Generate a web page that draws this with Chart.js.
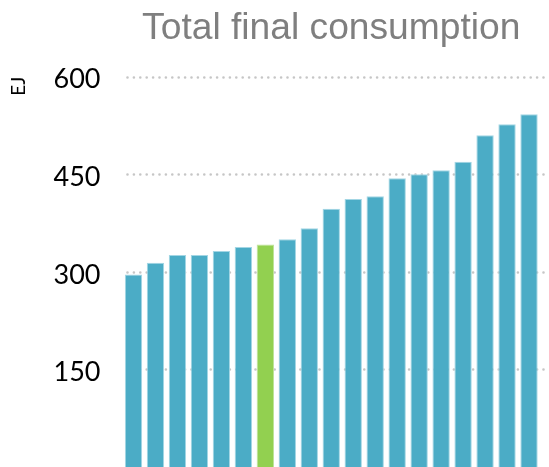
<!DOCTYPE html>
<html>
<head>
<meta charset="utf-8">
<script src="https://cdn.jsdelivr.net/npm/chart.js@4/dist/chart.umd.min.js"></script>
<style>
  html, body { margin: 0; padding: 0; background: #ffffff; }
  #wrap { width: 549px; height: 467px; position: relative; }
</style>
</head>
<body>
<div id="wrap"><canvas id="c"></canvas></div>
<script>
// ---- data ----
const categories = ['1','2','3','4','5','6','7','8','9','10','11','12','13','14','15','16','17','18','19'];
const consumptionEJ = [296, 314, 326, 326, 332, 338, 342, 350, 367, 397, 412, 416, 444, 450, 456, 469, 510, 527, 542];
const highlightIndex = 6;
const yTicks = [150, 300, 450, 600];
const titleText = 'Total final consumption';
const unitText = 'EJ';

const BLUE = '#4BACC6';
const GREEN = '#92D050';

const dottedGrid = {
  id: 'dottedGrid',
  beforeDatasetsDraw(chart) {
    const { ctx, chartArea, scales: { y } } = chart;
    ctx.save();
    ctx.strokeStyle = '#c6c6c6';
    ctx.lineWidth = 2.6;
    ctx.lineCap = 'round';
    ctx.setLineDash([0, 6.4]);
    y.ticks.forEach(t => {
      const py = Math.round(y.getPixelForValue(t.value)) + 0.5;
      ctx.beginPath();
      ctx.moveTo(chartArea.left + 5, py);
      ctx.lineTo(chart.width, py);
      ctx.stroke();
    });
    ctx.restore();
  }
};

new Chart(document.getElementById('c'), {
  type: 'bar',
  data: {
    labels: categories,
    datasets: [{
      data: consumptionEJ,
      backgroundColor: consumptionEJ.map((_, i) => i === highlightIndex ? GREEN : BLUE),
      borderColor: consumptionEJ.map((_, i) => i === highlightIndex ? '#bfe39a' : '#a3d6e4'),
      borderWidth: 1,
      barPercentage: 0.79,
      categoryPercentage: 1.0
    }]
  },
  options: {
    responsive: true,
    maintainAspectRatio: false,
    animation: false,
    layout: { padding: { left: 0, right: 9, top: 0, bottom: 0 } },
    plugins: {
      legend: { display: false },
      tooltip: { enabled: false },
      title: {
        display: true,
        text: titleText,
        fullSize: false,
        color: '#7f7f7f',
        font: { family: '"Liberation Sans", Arial, sans-serif', size: 37.2, weight: 'normal', lineHeight: 1.2 },
        padding: { top: 6, bottom: 26 }
      }
    },
    scales: {
      x: {
        type: 'category',
        ticks: { display: false },
        grid: { display: false, drawTicks: false },
        border: { display: true, color: 'rgba(120,120,120,0.35)', width: 1 },
        afterFit(scale) { scale.height = 0; scale.paddingLeft = 0; scale.paddingRight = 0; }
      },
      y: {
        min: 0,
        max: 600,
        afterBuildTicks(scale) { scale.ticks = yTicks.map(v => ({ value: v })); },
        ticks: {
          color: '#000000',
          padding: 22,
          labelOffset: 3,
          font: { family: 'Lato, "Open Sans", sans-serif', size: 27 },
          callback: (v) => String(v)
        },
        grid: { display: false, drawTicks: false },
        border: { display: false },
        title: {
          display: true,
          text: unitText,
          align: 'end',
          color: '#000000',
          font: { family: 'Lato, "Open Sans", sans-serif', size: 19 },
          padding: { top: 7, bottom: 0 }
        },
        afterFit(scale) { scale.width = 122.5; scale.paddingTop = 0; scale.paddingBottom = 0; }
      }
    }
  },
  plugins: [dottedGrid]
});
</script>
</body>
</html>
